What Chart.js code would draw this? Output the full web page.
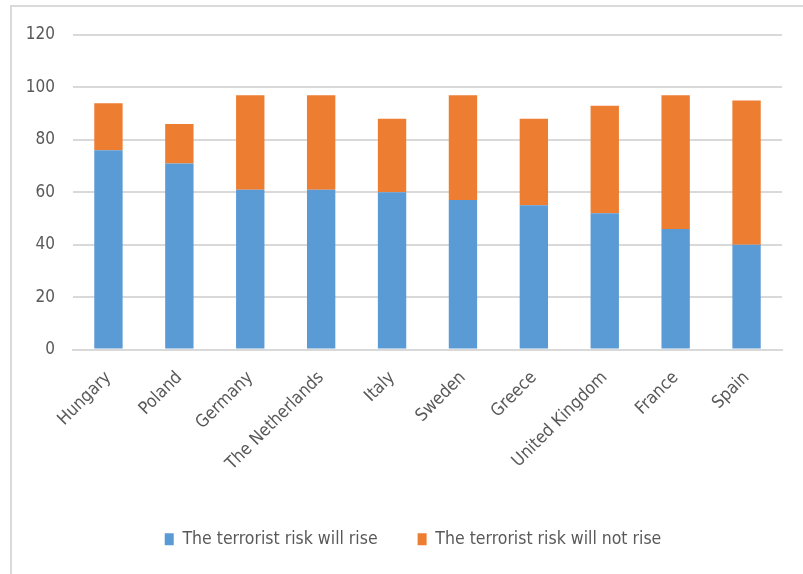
<!DOCTYPE html>
<html>
<head>
<meta charset="utf-8">
<script src="https://cdn.jsdelivr.net/npm/chart.js@4/dist/chart.umd.min.js"></script>
<style>
    body { margin: 0; background: #fff; }
    .quadro { position: relative; width: 803px; height: 574px; }
    .moldura { position: absolute; left: 10px; top: 5px; right: 0; bottom: 0; border-top: 2px solid #dadada; border-left: 2px solid #dadada; pointer-events: none; }
</style>
</head>
<body>
<div class="quadro">
    <canvas id="GraficoRisco" width="803" height="574"></canvas>
    <div class="moldura"></div>
</div>
<script>
/*Dados do gráfico*/
var paises = ['Hungary', 'Poland', 'Germany', 'The Netherlands', 'Italy', 'Sweden', 'Greece', 'United Kingdom', 'France', 'Spain'];
var riscoSobe = [76, 71, 61, 61, 60, 57, 55, 52, 46, 40];
var riscoNaoSobe = [18, 15, 36, 36, 28, 40, 33, 41, 51, 55];
var ticksY = [0, 20, 40, 60, 80, 100, 120];

var fonte = "'Liberation Sans Narrow', 'Arial Narrow', 'DejaVu Sans Condensed', sans-serif";
var cinza = '#595959';

/*Empurra a legenda um pouco para a direita*/
var deslocaLegenda = {
    id: 'deslocaLegenda',
    afterLayout: function (chart) {
        chart.legend.left += 22;
        chart.legend.right += 22;
    }
};

/*Construção do gráfico*/
var ctx = document.getElementById('GraficoRisco').getContext('2d');

var grafico = new Chart(ctx, {
    type: 'bar',
    data: {
        labels: paises,
        datasets: [{
            label: 'The terrorist risk will rise',
            data: riscoSobe,
            backgroundColor: '#5b9bd5'
        }, {
            label: 'The terrorist risk will not rise',
            data: riscoNaoSobe,
            backgroundColor: '#ed7d31'
        }]
    },
    options: {
        responsive: false,
        animation: false,
        categoryPercentage: 0.8,
        barPercentage: 0.5,
        layout: {
            padding: { top: 35, right: 21, bottom: 16, left: 0 }
        },
        scales: {
            x: {
                stacked: true,
                grid: { display: false },
                border: { color: '#d9d9d9', width: 2 },
                ticks: {
                    color: cinza,
                    font: { family: fonte, size: 17.5 },
                    minRotation: 45,
                    maxRotation: 45,
                    padding: 10
                },
                afterFit: function (escala) { escala.height = 141; }
            },
            y: {
                stacked: true,
                min: 0,
                max: 120,
                afterBuildTicks: function (escala) {
                    escala.ticks = ticksY.map(function (v) { return { value: v }; });
                },
                grid: { color: '#d9d9d9', lineWidth: 2, drawTicks: false },
                border: { display: false },
                ticks: {
                    color: cinza,
                    font: { family: fonte, size: 17 },
                    padding: 18
                },
                afterFit: function (escala) { escala.width = 73; }
            }
        },
        plugins: {
            tooltip: { enabled: false },
            legend: {
                position: 'bottom',
                labels: {
                    color: cinza,
                    font: { family: fonte, size: 17.5 },
                    boxWidth: 9,
                    boxHeight: 12,
                    padding: 40
                }
            }
        }
    },
    plugins: [deslocaLegenda]
});
</script>
</body>
</html>
